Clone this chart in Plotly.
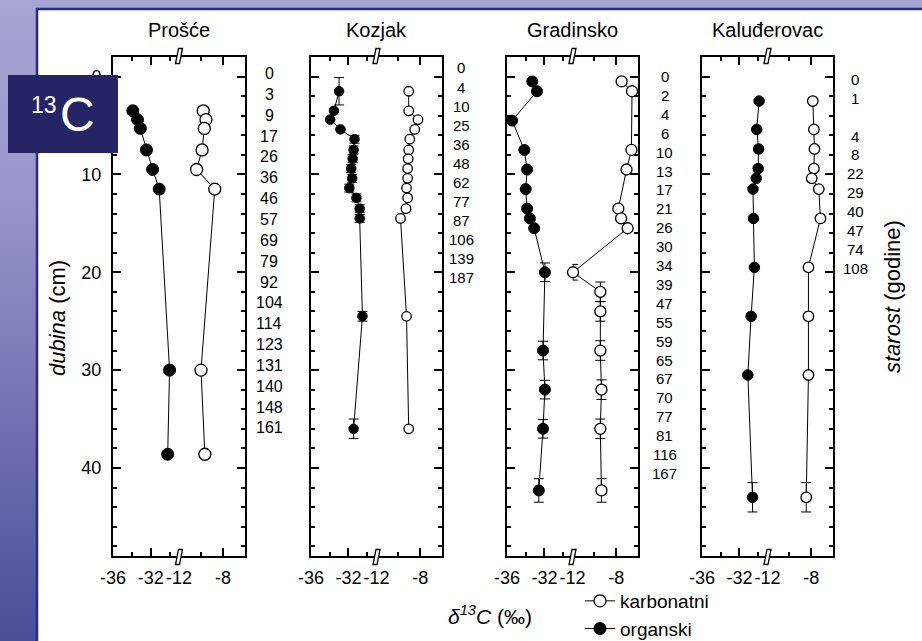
import plotly.graph_objects as go

W, H = 922, 641

# ---------------- data ----------------
site_names = ["Prošće", "Kozjak", "Gradinsko", "Kaluđerovac"]

prosce_depth = [3.5, 4.4, 5.3, 7.5, 9.5, 11.5, 30.0, 38.6]
prosce_org = [-33.9, -33.4, -33.1, -32.45, -31.8, -31.1, -30.0, -30.2]
prosce_carb = [-9.8, -9.55, -9.7, -9.9, -10.4, -8.75, -10.0, -9.65]
prosce_ages = ["0", "3", "9", "17", "26", "36", "46", "57", "69", "79", "92",
               "104", "114", "123", "131", "140", "148", "161"]

kozjak_depth = [1.5, 3.5, 4.4, 5.4, 6.4, 7.5, 8.4, 9.4, 10.4, 11.4, 12.4, 13.5, 14.5, 24.5, 36.0]
kozjak_org = [-33.0, -33.55, -33.95, -32.85, -31.35, -31.45, -31.55, -31.7, -31.6,
              -31.9, -31.15, -30.8, -30.8, -30.5, -31.45]
kozjak_org_err = [1.4, 0, 0, 0, 0.4, 0.4, 0.4, 0.4, 0.4, 0.4, 0.4, 0.4, 0.4, 0.5, 1.0]
kozjak_carb = [-9.05, -9.05, -8.2, -8.5, -8.95, -9.05, -9.1, -9.15, -9.15, -9.25,
               -9.15, -9.3, -9.8, -9.25, -9.05]
kozjak_ages = ["0", "4", "10", "25", "36", "48", "62", "77", "87", "106", "139", "187"]

gradinsko_org_depth = [0.5, 1.5, 4.5, 7.5, 9.5, 11.5, 13.5, 14.5, 15.5, 20.0, 28.0, 32.0, 36.0, 42.3]
gradinsko_org = [-33.3, -32.8, -35.45, -34.15, -33.85, -34.0, -33.85, -33.55, -33.1,
                 -31.95, -32.15, -31.95, -32.15, -32.6]
gradinsko_org_err = [0, 0, 0, 0, 0, 0, 0, 0, 0, 0.95, 0.95, 0.95, 0.95, 1.2]
gradinsko_carb_depth = [0.5, 1.5, 7.5, 9.5, 13.5, 14.5, 15.5, 20.0, 22.0, 24.0, 28.0, 32.0, 36.0, 42.3]
gradinsko_carb = [-7.5, -6.55, -6.6, -7.05, -7.8, -7.55, -6.95, -11.95, -9.45, -9.45,
                  -9.45, -9.35, -9.45, -9.35]
gradinsko_carb_err = [0, 0, 0, 0, 0, 0, 0, 0.8, 1.0, 1.0, 1.0, 1.0, 1.0, 1.2]
gradinsko_ages = ["0", "2", "4", "6", "10", "13", "17", "21", "26", "30", "34", "39",
                  "47", "55", "59", "65", "67", "70", "77", "81", "116", "167"]

kaludjerovac_depth = [2.5, 5.4, 7.4, 9.4, 10.4, 11.5, 14.5, 19.5, 24.5, 30.5, 43.0]
kaludjerovac_org = [-29.9, -30.15, -29.95, -30.0, -30.2, -30.55, -30.5, -30.4, -30.75, -31.1, -30.6]
kaludjerovac_carb = [-7.85, -7.75, -7.7, -7.75, -7.95, -7.3, -7.15, -8.25, -8.25, -8.25, -8.45]
kaludjerovac_err = [0, 0, 0, 0, 0, 0, 0, 0, 0, 0, 1.5]
kaludjerovac_ages = ["0", "1", "", "4", "8", "22", "29", "40", "47", "74", "108"]

org_ticks = [-36, -32]
org_minor = [-34, -30]
carb_ticks = [-12, -8]
carb_minor = [-10, -6]
depth_ticks = [0, 10, 20, 30, 40]

panels = [
    dict(name=site_names[0], od=prosce_depth, o=prosce_org, oe=None,
         cd=prosce_depth, c=prosce_carb, ce=None, ages=prosce_ages, ms=12),
    dict(name=site_names[1], od=kozjak_depth, o=kozjak_org, oe=kozjak_org_err,
         cd=kozjak_depth, c=kozjak_carb, ce=None, ages=kozjak_ages, ms=9.5),
    dict(name=site_names[2], od=gradinsko_org_depth, o=gradinsko_org, oe=gradinsko_org_err,
         cd=gradinsko_carb_depth, c=gradinsko_carb, ce=gradinsko_carb_err, ages=gradinsko_ages, ms=11),
    dict(name=site_names[3], od=kaludjerovac_depth, o=kaludjerovac_org, oe=kaludjerovac_err,
         cd=kaludjerovac_depth, c=kaludjerovac_carb, ce=kaludjerovac_err, ages=kaludjerovac_ages, ms=10.5),
]

# ---------------- layout geometry (pixels) ----------------
FONT = "Liberation Sans, Arial, sans-serif"
panel_left = [112, 310, 506, 701]
panel_right = [246, 443, 639, 834]
frame_top, frame_bot = 56, 557
age_first = [73.5, 68, 76.5, 79.5]
age_step = [20.85, 19.09, 18.9, 18.85]
age_x = [269, 461, 664.5, 855]
age_size = [16, 15, 15, 15]


def px(x):
    return x / W


def py(y):
    return 1 - y / H


fig = go.Figure()
layout = dict(
    width=W, height=H, margin=dict(l=0, r=0, t=0, b=0, pad=0, autoexpand=False),
    paper_bgcolor="white", plot_bgcolor="rgba(0,0,0,0)",
    font=dict(family=FONT, color="black", size=18),
    showlegend=True,
    legend=dict(x=px(580), y=py(582), xanchor="left", yanchor="top",
                bgcolor="rgba(0,0,0,0)", font=dict(size=19, family=FONT),
                traceorder="normal", tracegroupgap=0),
)
shapes = []
annotations = []

ydom = [py(frame_bot - 1), py(frame_top + 1)]

for k, p in enumerate(panels):
    L, R = panel_left[k], panel_right[k]
    mid = (L + R) / 2
    no, nc = 2 * k + 1, 2 * k + 2
    sx_o = "" if no == 1 else str(no)
    sx_c = str(nc)
    axcommon = dict(showline=True, linewidth=2, linecolor="black", showgrid=False,
                    zeroline=False, ticks="inside", ticklen=8, tickwidth=1.5,
                    tickcolor="black", fixedrange=True, automargin=False)
    layout["xaxis" + sx_o] = dict(
        axcommon, domain=[px(L + 1), px(mid)], range=[-36, -29], anchor="y" + sx_o,
        mirror="ticks", tickvals=org_ticks, ticktext=[str(v) for v in org_ticks],
        tickfont=dict(size=18), ticklabelstandoff=4,
        minor=dict(tickvals=org_minor, ticklen=4, tickwidth=1.5, ticks="inside", tickcolor="black"))
    layout["xaxis" + sx_c] = dict(
        axcommon, domain=[px(mid), px(R - 1)], range=[-12, -6], anchor="y" + sx_c,
        mirror="ticks", tickvals=carb_ticks, ticktext=[str(v) for v in carb_ticks],
        tickfont=dict(size=18), ticklabelstandoff=4,
        minor=dict(tickvals=carb_minor, ticklen=4, tickwidth=1.5, ticks="inside", tickcolor="black"))
    layout["yaxis" + sx_o] = dict(
        axcommon, domain=ydom, range=[49, -2], anchor="x" + sx_o, side="left",
        tickvals=depth_ticks, ticktext=[str(v) for v in depth_ticks],
        showticklabels=(k == 0), tickfont=dict(size=18), ticklabelstandoff=6,
        minor=dict(tick0=0, dtick=2, ticklen=4, tickwidth=1.5, ticks="inside", tickcolor="black"))
    layout["yaxis" + sx_c] = dict(
        axcommon, domain=ydom, range=[49, -2], anchor="x" + sx_c, side="right",
        tickvals=depth_ticks, showticklabels=False,
        minor=dict(tick0=0, dtick=2, ticklen=4, tickwidth=1.5, ticks="inside", tickcolor="black"))

    # carbonate (open)
    fig.add_trace(go.Scatter(
        x=p["c"], y=p["cd"], xaxis="x" + sx_c, yaxis="y" + sx_c, mode="lines+markers",
        name="karbonatni", legendgroup="karb", showlegend=(k == 0), cliponaxis=False,
        line=dict(color="black", width=1),
        marker=dict(symbol="circle", size=p["ms"], color="white", line=dict(color="black", width=1.3)),
        error_y=(dict(type="data", array=p["ce"], visible=True, color="black", thickness=1, width=5)
                 if p["ce"] else None)))
    # organic (filled)
    fig.add_trace(go.Scatter(
        x=p["o"], y=p["od"], xaxis="x" + sx_o, yaxis="y" + sx_o, mode="lines+markers",
        name="organski", legendgroup="org", showlegend=(k == 0), cliponaxis=False,
        line=dict(color="black", width=1),
        marker=dict(symbol="circle", size=p["ms"], color="black", line=dict(color="black", width=1)),
        error_y=(dict(type="data", array=p["oe"], visible=True, color="black", thickness=1, width=5)
                 if p["oe"] else None)))

    # axis break marks
    for yb in (frame_top, frame_bot):
        pts = [(mid - 3.5, yb + 7.5), (mid - 0.5, yb - 7.5), (mid + 3.5, yb - 7.5), (mid + 0.5, yb + 7.5)]
        path = "M " + " L ".join(f"{px(a):.5f},{py(b):.5f}" for a, b in pts) + " Z"
        shapes.append(dict(type="path", path=path, xref="paper", yref="paper",
                           fillcolor="white", line=dict(color="black", width=1.3), layer="above"))

    # panel title
    annotations.append(dict(text=p["name"], x=px((L + R) / 2), y=py(30), xref="paper", yref="paper",
                            showarrow=False, xanchor="center", yanchor="middle",
                            font=dict(size=20, family=FONT)))
    # age labels
    for i, a in enumerate(p["ages"]):
        if not a:
            continue
        annotations.append(dict(text=a, x=px(age_x[k]), y=py(age_first[k] + i * age_step[k]),
                                xref="paper", yref="paper", showarrow=False,
                                xanchor="center", yanchor="middle",
                                font=dict(size=age_size[k], family=FONT)))

# ---------------- background decoration ----------------
top_c = (166, 166, 212)
mid_c = (150, 150, 203)
bot_c = (76, 76, 152)


def lerp(c1, c2, t):
    return tuple(int(round(c1[i] + (c2[i] - c1[i]) * t)) for i in range(3))


bg = []
band = 8
for y0 in range(0, H, band):
    yc = y0 + band / 2
    if yc < 200:
        c = lerp(top_c, mid_c, yc / 200)
    else:
        c = lerp(mid_c, bot_c, (yc - 200) / (H - 200))
    bg.append(dict(type="rect", xref="paper", yref="paper", x0=0, x1=px(37),
                   y0=py(min(y0 + band + 0.5, H)), y1=py(y0), fillcolor="rgb(%d,%d,%d)" % c,
                   line=dict(width=0), layer="below"))
bg.append(dict(type="rect", xref="paper", yref="paper", x0=0, x1=1, y0=py(9), y1=1,
               fillcolor="rgb(%d,%d,%d)" % top_c, line=dict(width=0), layer="below"))
bg.append(dict(type="line", xref="paper", yref="paper", x0=px(37), x1=px(37), y0=0, y1=py(8),
               line=dict(color="#2b2b7e", width=2.5), layer="below"))
bg.append(dict(type="line", xref="paper", yref="paper", x0=px(36), x1=1, y0=py(9), y1=py(9),
               line=dict(color="#2b2b7e", width=2.5), layer="below"))
# 13C label box
shapes.append(dict(type="rect", xref="paper", yref="paper", x0=px(8), x1=px(118),
                   y0=py(153), y1=py(75), fillcolor="#252566", line=dict(width=0), layer="above"))
annotations.append(dict(text="13", x=px(29), y=py(105), xref="paper", yref="paper", showarrow=False,
                        xanchor="left", yanchor="middle", font=dict(size=23, color="white", family=FONT)))
annotations.append(dict(text="C", x=px(58), y=py(114), xref="paper", yref="paper", showarrow=False,
                        xanchor="left", yanchor="middle", font=dict(size=48, color="white", family=FONT)))

# axis titles
annotations.append(dict(text="<i>dubina</i> (cm)", x=px(57), y=py(318), xref="paper", yref="paper",
                        showarrow=False, textangle=-90, xanchor="center", yanchor="middle",
                        font=dict(size=22, family=FONT)))
annotations.append(dict(text="<i>starost</i> (godine)", x=px(893), y=py(297), xref="paper", yref="paper",
                        showarrow=False, textangle=-90, xanchor="center", yanchor="middle",
                        font=dict(size=22, family=FONT)))
annotations.append(dict(text="<i>δ</i><sup><i>13</i></sup><i>C</i> (‰)", x=px(490), y=py(615),
                        xref="paper", yref="paper", showarrow=False, xanchor="center", yanchor="middle",
                        font=dict(size=21, family=FONT)))

layout["shapes"] = bg + shapes
layout["annotations"] = annotations
fig.update_layout(**layout)
fig.write_html("out.html", config={"displayModeBar": False},
               post_script="document.body.style.margin='0px';document.body.style.padding='0px';"
                           "document.body.style.overflow='hidden';")
